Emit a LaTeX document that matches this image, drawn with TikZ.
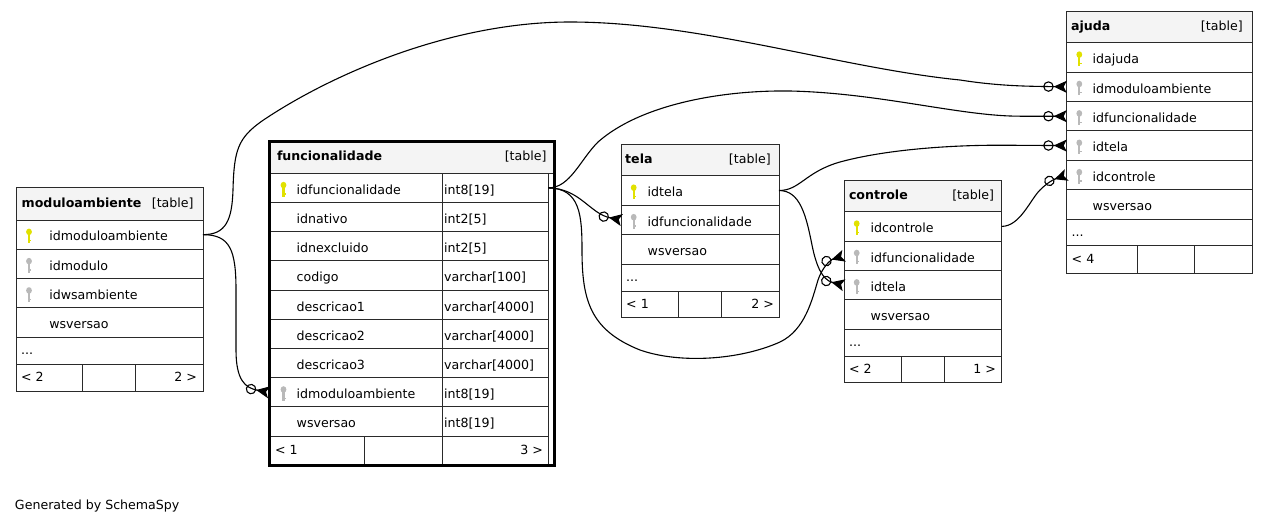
\documentclass[tikz,border=0pt]{standalone}
\usepackage{fontspec}
\setmainfont{DejaVu Sans}
\usetikzlibrary{arrows.meta}
\definecolor{hdr}{HTML}{F4F4F4}
\definecolor{pk}{RGB}{225,225,0}
\definecolor{fkc}{RGB}{185,185,185}
\definecolor{brd}{HTML}{2A2A2A}
\tikzset{
  cellbox/.style={draw=brd, line width=1pt, inner sep=0pt, outer sep=0pt, anchor=north west},
  hdrbox/.style={cellbox, fill=hdr},
  txt/.style={inner sep=0pt, outer sep=0pt, font=\fontsize{12.6}{15}\selectfont},
  btxt/.style={txt, font=\fontsize{12.6}{15}\selectfont\bfseries},
  rel/.style={draw=black, line width=1.1pt},
  fk/.style={rel, -{Circle[open,length=10.5pt,width=10.5pt,line width=1.1pt] Stealth[reversed,length=13pt,width=12pt,inset=3pt]}},
  pics/tkey/.style={code={
    \fill[#1] (0,-2.8) ellipse [x radius=2.9, y radius=3.3];
    \fill[#1] (-1.1,-1) rectangle (1.1,8.6);
    \fill[#1] (1.1,5.4) rectangle (2.2,6.6);
  }},
}
\newcommand\cel[6][cellbox]{\node[#1, minimum width=#5, minimum height=#6] (#2) at (#3,#4) {};}
\newcommand\fld[4]{\node[txt, anchor=base west] (#1-#2) at ([xshift=#3pt,yshift=-6.3pt]#1.west) {#4};}
\newcommand\hdr[4]{%
  \node[btxt, anchor=base west] (#1-n) at ([xshift=#3pt,yshift=-3.5pt]#1.west) {#2};
  \node[txt, anchor=base east] (#1-t) at ([xshift=-#4pt,yshift=-3.5pt]#1.east) {[table]};}
\newcommand\fl[3]{\node[txt, anchor=base west] (#1-n) at ([xshift=#2pt,yshift=-4pt]#1.west) {#3};}
\newcommand\fr[3]{\node[txt, anchor=base east] (#1-n) at ([xshift=-#2pt,yshift=-4pt]#1.east) {#3};}
\begin{document}
\begin{tikzpicture}[x=1pt,y=-1pt]
\useasboundingbox (0,0) rectangle (1267,525);

% ---------------- moduloambiente
\cel[hdrbox]{MAh}{16}{187.3}{187}{32.7}
\cel{MA1}{16}{220}{187}{29.3}
\cel{MA2}{16}{249.3}{187}{29.3}
\cel{MA3}{16}{278.6}{187}{29.3}
\cel{MA4}{16}{307.9}{187}{29.3}
\cel{MAd}{16}{337.2}{187}{26.8}
\cel{MAf1}{16}{364}{66.7}{27.3}
\cel{MAf2}{82.7}{364}{53}{27.3}
\cel{MAf3}{135.7}{364}{67.3}{27.3}
\hdr{MAh}{moduloambiente}{5.7}{9.4}
\fld{MA1}{n}{33.3}{idmoduloambiente}
\fld{MA2}{n}{33.3}{idmodulo}
\fld{MA3}{n}{33.3}{idwsambiente}
\fld{MA4}{n}{33.3}{wsversao}
\pic at ([xshift=13pt]MA1.west) {tkey=pk};
\pic at ([xshift=13pt]MA2.west) {tkey=fkc};
\pic at ([xshift=13pt]MA3.west) {tkey=fkc};
\fl{MAd}{5}{...}
\fl{MAf1}{5}{< 2}
\fr{MAf3}{6}{2 >}

% ---------------- funcionalidade
\cel[hdrbox]{Fh}{269}{141}{285}{32.3}
\cel{F1}{269}{173.3}{173.7}{29.2}\cel{F1t}{442.7}{173.3}{105.6}{29.2}
\cel{F2}{269}{202.5}{173.7}{29.2}\cel{F2t}{442.7}{202.5}{105.6}{29.2}
\cel{F3}{269}{231.7}{173.7}{29.2}\cel{F3t}{442.7}{231.7}{105.6}{29.2}
\cel{F4}{269}{260.9}{173.7}{29.2}\cel{F4t}{442.7}{260.9}{105.6}{29.2}
\cel{F5}{269}{290.1}{173.7}{29.2}\cel{F5t}{442.7}{290.1}{105.6}{29.2}
\cel{F6}{269}{319.3}{173.7}{29.2}\cel{F6t}{442.7}{319.3}{105.6}{29.2}
\cel{F7}{269}{348.5}{173.7}{29.2}\cel{F7t}{442.7}{348.5}{105.6}{29.2}
\cel{F8}{269}{377.7}{173.7}{29.2}\cel{F8t}{442.7}{377.7}{105.6}{29.2}
\cel{F9}{269}{406.9}{173.7}{29.2}\cel{F9t}{442.7}{406.9}{105.6}{29.2}
\cel{Ff1}{269}{436.1}{95}{28.9}
\cel{Ff2}{364}{436.1}{78.7}{28.9}
\cel{Ff3}{442.7}{436.1}{105.6}{28.9}
\node[draw=black, line width=3pt, inner sep=0pt, outer sep=0pt, anchor=north west,
      minimum width=285, minimum height=324] (F) at (269,141) {};
\hdr{Fh}{funcionalidade}{8}{7.5}
\fld{F1}{n}{27.7}{idfuncionalidade}\fld{F1t}{n}{1.5}{int8[19]}
\fld{F2}{n}{27.7}{idnativo}\fld{F2t}{n}{1.5}{int2[5]}
\fld{F3}{n}{27.7}{idnexcluido}\fld{F3t}{n}{1.5}{int2[5]}
\fld{F4}{n}{27.7}{codigo}\fld{F4t}{n}{1.5}{varchar[100]}
\fld{F5}{n}{27.7}{descricao1}\fld{F5t}{n}{1.5}{varchar[4000]}
\fld{F6}{n}{27.7}{descricao2}\fld{F6t}{n}{1.5}{varchar[4000]}
\fld{F7}{n}{27.7}{descricao3}\fld{F7t}{n}{1.5}{varchar[4000]}
\fld{F8}{n}{27.7}{idmoduloambiente}\fld{F8t}{n}{1.5}{int8[19]}
\fld{F9}{n}{27.7}{wsversao}\fld{F9t}{n}{1.5}{int8[19]}
\pic at ([xshift=14.5pt]F1.west) {tkey=pk};
\pic at ([xshift=14.5pt]F8.west) {tkey=fkc};
\fl{Ff1}{6}{< 1}
\fr{Ff3}{5.3}{3 >}

% ---------------- tela
\cel[hdrbox]{Th}{621.7}{144}{157.3}{31.7}
\cel{T1}{621.7}{175.7}{157.3}{29.6}
\cel{T2}{621.7}{205.3}{157.3}{29.4}
\cel{T3}{621.7}{234.7}{157.3}{29.3}
\cel{Td}{621.7}{264}{157.3}{27}
\cel{Tf1}{621.7}{291}{56.6}{26.7}
\cel{Tf2}{678.3}{291}{43.4}{26.7}
\cel{Tf3}{721.7}{291}{57.3}{26.7}
\hdr{Th}{tela}{3.5}{8.3}
\fld{T1}{n}{26}{idtela}
\fld{T2}{n}{26}{idfuncionalidade}
\fld{T3}{n}{26}{wsversao}
\pic at ([xshift=12pt]T1.west) {tkey=pk};
\pic at ([xshift=12pt]T2.west) {tkey=fkc};
\fl{Td}{4.5}{...}
\fl{Tf1}{4.5}{< 1}
\fr{Tf3}{5}{2 >}

% ---------------- controle
\cel[hdrbox]{Ch}{844}{180}{157.7}{31.7}
\cel{C1}{844}{211.7}{157.7}{29.4}
\cel{C2}{844}{241.1}{157.7}{29.4}
\cel{C3}{844}{270.5}{157.7}{29.4}
\cel{C4}{844}{299.9}{157.7}{29.4}
\cel{Cd}{844}{329.3}{157.7}{26.7}
\cel{Cf1}{844}{356}{57}{26.7}
\cel{Cf2}{901}{356}{43.3}{26.7}
\cel{Cf3}{944.3}{356}{57.4}{26.7}
\hdr{Ch}{controle}{5}{7.7}
\fld{C1}{n}{26.7}{idcontrole}
\fld{C2}{n}{26.7}{idfuncionalidade}
\fld{C3}{n}{26.7}{idtela}
\fld{C4}{n}{26.7}{wsversao}
\pic at ([xshift=12.7pt]C1.west) {tkey=pk};
\pic at ([xshift=12.7pt]C2.west) {tkey=fkc};
\pic at ([xshift=12.7pt]C3.west) {tkey=fkc};
\fl{Cd}{5}{...}
\fl{Cf1}{5}{< 2}
\fr{Cf3}{5.7}{1 >}

% ---------------- ajuda
\cel[hdrbox]{Ah}{1066.7}{11.7}{185.6}{31}
\cel{A1}{1066.7}{42.7}{185.6}{29.4}
\cel{A2}{1066.7}{72.1}{185.6}{29.4}
\cel{A3}{1066.7}{101.5}{185.6}{29.4}
\cel{A4}{1066.7}{130.9}{185.6}{29.4}
\cel{A5}{1066.7}{160.3}{185.6}{29.4}
\cel{A6}{1066.7}{189.7}{185.6}{29.4}
\cel{Ad}{1066.7}{219.1}{185.6}{26.6}
\cel{Af1}{1066.7}{245.7}{70.6}{27.6}
\cel{Af2}{1137.3}{245.7}{56.7}{27.6}
\cel{Af3}{1194}{245.7}{58.3}{27.6}
\hdr{Ah}{ajuda}{4.3}{9.6}
\fld{A1}{n}{26}{idajuda}
\fld{A2}{n}{26}{idmoduloambiente}
\fld{A3}{n}{26}{idfuncionalidade}
\fld{A4}{n}{26}{idtela}
\fld{A5}{n}{26}{idcontrole}
\fld{A6}{n}{26}{wsversao}
\pic at ([xshift=12.6pt]A1.west) {tkey=pk};
\pic at ([xshift=12.6pt]A2.west) {tkey=fkc};
\pic at ([xshift=12.6pt]A3.west) {tkey=fkc};
\pic at ([xshift=12.6pt]A4.west) {tkey=fkc};
\pic at ([xshift=12.6pt]A5.west) {tkey=fkc};
\fl{Ad}{5}{...}
\fl{Af1}{5}{< 4}

% ---------------- relationships
\draw[fk] (MA1.east) .. controls (230,234.7) and (236,250) .. (236,290)
  -- (236,350) .. controls (236,380) and (245,388) .. (F8.west);
\draw[fk] (MA1.east) .. controls (226,234.7) and (232,220) .. (233,190)
  .. controls (234,150) and (238,138) .. (262,121)
  .. controls (330,75) and (450,22) .. (570,22)
  .. controls (700,22) and (840,68) .. (960,80)
  .. controls (1000,86.3) and (1030,86.3) .. (A2.west);
\draw[fk] (F1t.east) .. controls (580,188.3) and (590,214) .. (T2.west);
\draw[fk] (F1t.east) .. controls (570,188) and (580,160) .. (598,142)
  .. controls (640,105) and (720,90) .. (790,91)
  .. controls (880,93) and (960,116.2) .. (1020,116.2) -- (A3.west);
\draw[fk] (F1t.east) .. controls (580,188.3) and (582,215) .. (582,250)
  .. controls (582,300) and (590,330) .. (640,350)
  .. controls (680,364) and (740,360) .. (780,342)
  .. controls (805,330) and (812,300) .. (818,280)
  .. controls (822,268) and (830,260) .. (C2.west);
\draw[fk] (T1.east) .. controls (800,190.5) and (806,215) .. (812,245)
  .. controls (816,265) and (822,280) .. (C3.west);
\draw[fk] (T1.east) .. controls (800,190.5) and (805,172) .. (840,162)
  .. controls (880,151) and (940,145.2) .. (1000,145.2) -- (A4.west);
\draw[fk] (C1.east) .. controls (1020,226.3) and (1030,200) .. (1040,190)
  .. controls (1046,184) and (1052,180) .. (A5.west);

\node[txt, anchor=base west] (gen) at (15,509.5) {Generated by SchemaSpy};
\end{tikzpicture}
\end{document}
